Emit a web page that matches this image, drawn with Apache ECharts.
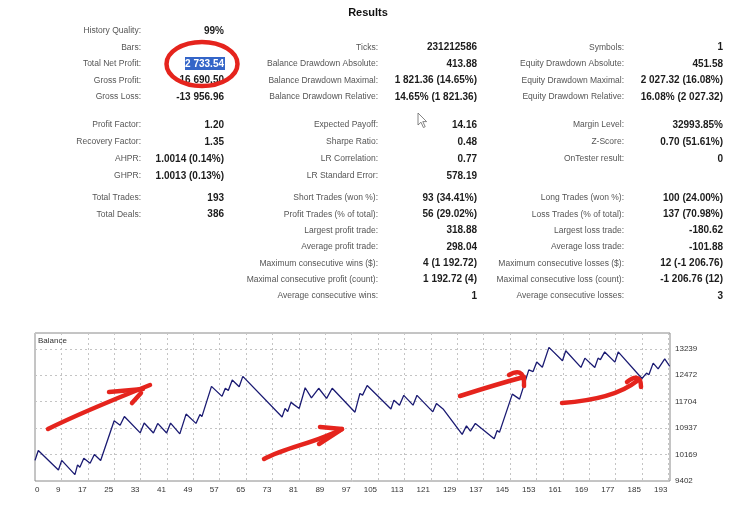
<!DOCTYPE html>
<html>
<head>
<meta charset="utf-8">
<script src="https://cdn.jsdelivr.net/npm/echarts@6/dist/echarts.min.js"></script>
<style>
  html, body { margin: 0; padding: 0; background: #fff; }
  #report { width: 749px; height: 505px; }
</style>
</head>
<body>
<div id="report"></div>
<script>
// balance curve: turning points (trade no., balance)
var tradeNo = [0, 1, 7.1, 8.1, 12.1, 12.9, 13.6, 14.8, 16.7, 18,
    19.9, 24, 25.8, 27.1, 31.9, 33.1, 35.9, 37.2, 39.9, 41.1,
    43.9, 45.8, 48.8, 50, 50.6, 53.5, 56.7, 57.7, 58.6, 59.8,
    61.9, 63, 74.9, 75.8, 76.6, 77.6, 78.5, 80.1, 81.9, 83.8,
    86, 88.4, 90.1, 97, 98.5, 99.3, 100.7, 107.9, 108.8, 110.5,
    111.8, 114.6, 115.8, 120.6, 121.7, 123.7, 129.5, 130.8, 132, 133.5,
    139.2, 140.1, 140.8, 144.7, 146.9, 149.7, 151, 152.1, 153.8, 155.8,
    159.9, 160.9, 165.5, 166.7, 169.7, 170.7, 171.4, 172.7, 175.8, 176.8,
    184, 185.4, 186.1, 187.4, 188.9, 190.9, 192.4];
var balance = [10000, 10290, 9720, 10000, 9586, 9870, 9800, 10060, 9915, 10170,
    9995, 11150, 11020, 11275, 10800, 11085, 10795, 11075, 10795, 11085,
    10770, 11345, 11075, 11335, 11270, 12150, 11860, 12095, 12030, 12335,
    12140, 12440, 11260, 11510, 11420, 11685, 11620, 11510, 12110, 11815,
    12095, 11800, 12095, 11400, 11945, 11895, 12175, 11495, 11750, 11605,
    11890, 11605, 11890, 11410, 11655, 11495, 10755, 11005, 10850, 11075,
    10630, 10870, 10815, 11925, 11780, 12630, 12580, 12855, 12705, 13283,
    12895, 13185, 12700, 12970, 12700, 12970, 12925, 13150, 12855, 13150,
    12380, 12535, 12485, 12825, 12660, 12950, 12734];

var xTickPos = [0, 8, 16, 24, 32, 40, 48, 56, 64, 72, 80, 88, 96, 104, 112, 120, 128, 136, 144, 152, 160, 168, 176, 184, 192];
var xTickLabels = ['0', '9', '17', '25', '33', '41', '49', '57', '65', '73', '81', '89', '97', '105', '113', '121', '129', '137', '145', '153', '161', '169', '177', '185', '193'];
var yTicks = [9402, 10169, 10937, 11704, 12472, 13239];

// report table
var block1 = [
    ['History Quality:', '99%', '', '', '', ''],
    ['Bars:', '', 'Ticks:', '231212586', 'Symbols:', '1'],
    ['Total Net Profit:', '2 733.54', 'Balance Drawdown Absolute:', '413.88', 'Equity Drawdown Absolute:', '451.58'],
    ['Gross Profit:', '16 690.50', 'Balance Drawdown Maximal:', '1 821.36 (14.65%)', 'Equity Drawdown Maximal:', '2 027.32 (16.08%)'],
    ['Gross Loss:', '-13 956.96', 'Balance Drawdown Relative:', '14.65% (1 821.36)', 'Equity Drawdown Relative:', '16.08% (2 027.32)']
];
var block2 = [
    ['Profit Factor:', '1.20', 'Expected Payoff:', '14.16', 'Margin Level:', '32993.85%'],
    ['Recovery Factor:', '1.35', 'Sharpe Ratio:', '0.48', 'Z-Score:', '0.70 (51.61%)'],
    ['AHPR:', '1.0014 (0.14%)', 'LR Correlation:', '0.77', 'OnTester result:', '0'],
    ['GHPR:', '1.0013 (0.13%)', 'LR Standard Error:', '578.19', '', '']
];
var block3 = [
    ['Total Trades:', '193', 'Short Trades (won %):', '93 (34.41%)', 'Long Trades (won %):', '100 (24.00%)'],
    ['Total Deals:', '386', 'Profit Trades (% of total):', '56 (29.02%)', 'Loss Trades (% of total):', '137 (70.98%)'],
    ['', '', 'Largest profit trade:', '318.88', 'Largest loss trade:', '-180.62'],
    ['', '', 'Average profit trade:', '298.04', 'Average loss trade:', '-101.88'],
    ['', '', 'Maximum consecutive wins ($):', '4 (1 192.72)', 'Maximum consecutive losses ($):', '12 (-1 206.76)'],
    ['', '', 'Maximal consecutive profit (count):', '1 192.72 (4)', 'Maximal consecutive loss (count):', '-1 206.76 (12)'],
    ['', '', 'Average consecutive wins:', '1', 'Average consecutive losses:', '3']
];

var labelRight = [141, 378, 624];
var valueRight = [224, 477, 723];
var RED = '#e5241d';

var elements = [];

function txt(s, x, y, font, color, align) {
    elements.push({
        type: 'text', z: 10,
        style: {
            text: s, x: x, y: y, font: font, fill: color,
            align: align, textAlign: align,
            verticalAlign: 'middle', textVerticalAlign: 'middle'
        }
    });
}

function addBlock(rows, y0, step) {
    rows.forEach(function (r, i) {
        var y = y0 + i * step;
        for (var c = 0; c < 3; c++) {
            if (r[c * 2]) txt(r[c * 2], labelRight[c], y, '8.5px "Liberation Sans"', '#555', 'right');
            if (r[c * 2 + 1]) {
                var hl = (r[c * 2 + 1] === '2 733.54');
                txt(r[c * 2 + 1], valueRight[c], y, 'bold 10px "Liberation Sans"', hl ? '#fff' : '#1c1c1c', 'right');
            }
        }
    });
}

// selection highlight behind net profit
elements.push({ type: 'rect', z: 5, shape: { x: 185, y: 57, width: 40, height: 13 }, style: { fill: '#3465c8' } });

txt('Results', 368, 13, 'bold 11px "Liberation Sans"', '#111', 'center');
addBlock(block1, 31, 16.5);
addBlock(block2, 125, 17);
addBlock(block3, 198, 16.3);
txt('Balance', 38, 341, '8px "Liberation Sans"', '#333', 'left');

// mouse cursor
elements.push({
    type: 'polygon', z: 20,
    shape: { points: [[418, 113], [418, 125], [421, 122.2], [423.4, 127.5], [425.2, 126.7], [422.8, 121.6], [426.6, 121.6]] },
    style: { fill: '#fff', stroke: '#666', lineWidth: 0.8 }
});

// red marker drawings
function stroke(el) {
    el.z = 30;
    el.style = { stroke: RED, lineWidth: 4.5, fill: null, lineCap: 'round', lineJoin: 'round' };
    elements.push(el);
}
stroke({ type: 'ellipse', shape: { cx: 202, cy: 64, rx: 35.5, ry: 22 } });
stroke({ type: 'bezierCurve', shape: { x1: 48, y1: 429, cpx1: 80, cpy1: 413, cpx2: 115, cpy2: 399, x2: 150, y2: 385 } });
stroke({ type: 'polyline', shape: { points: [[109, 392], [143, 389]] } });
stroke({ type: 'polyline', shape: { points: [[141, 393], [132, 403]] } });
stroke({ type: 'bezierCurve', shape: { x1: 264, y1: 459, cpx1: 286, cpy1: 447, cpx2: 316, cpy2: 443, x2: 342, y2: 429 } });
stroke({ type: 'polyline', shape: { points: [[320, 427], [342, 429], [319, 444]] } });
stroke({ type: 'bezierCurve', shape: { x1: 460, y1: 396, cpx1: 485, cpy1: 388, cpx2: 505, cpy2: 382, x2: 524, y2: 377 } });
stroke({ type: 'bezierCurve', shape: { x1: 509, y1: 375, cpx1: 516, cpy1: 371, cpx2: 525, cpy2: 369, x2: 524, y2: 386 } });
stroke({ type: 'bezierCurve', shape: { x1: 562, y1: 403, cpx1: 590, cpy1: 401, cpx2: 618, cpy2: 396, x2: 637, y2: 381 } });
stroke({ type: 'bezierCurve', shape: { x1: 627, y1: 382, cpx1: 633, cpy1: 377, cpx2: 641, cpy2: 374, x2: 641, y2: 387 } });

var chart = echarts.init(document.getElementById('report'), null, { renderer: 'canvas' });

var gridLine = { show: true, lineStyle: { color: '#c4c4c4', type: [2, 3], width: 1 } };
var axisFont = { fontFamily: 'Liberation Sans', fontSize: 8, color: '#333' };

var option = {
    animation: false,
    backgroundColor: '#fff',
    grid: {
        left: 35, right: 79, top: 333, bottom: 24,
        show: true, borderColor: '#8a8a8a', borderWidth: 1,
        containLabel: false, outerBoundsMode: 'none'
    },
    xAxis: {
        type: 'value', min: 0, max: 192.5,
        axisLine: { show: false },
        axisTick: { show: false, customValues: xTickPos },
        splitLine: gridLine,
        axisLabel: Object.assign({
            customValues: xTickPos,
            margin: 5,
            align: 'right',
            alignMinLabel: 'left',
            padding: [0, 1, 0, 0],
            formatter: function (v) {
                var i = xTickPos.indexOf(v);
                return i < 0 ? '' : xTickLabels[i];
            }
        }, axisFont)
    },
    yAxis: {
        type: 'value', position: 'right', min: 9402, max: 13700,
        axisLine: { show: false },
        axisTick: { show: false, customValues: yTicks },
        splitLine: gridLine,
        axisLabel: Object.assign({
            customValues: yTicks,
            margin: 5,
            align: 'left',
            formatter: function (v) { return String(v); }
        }, axisFont)
    },
    series: [{
        type: 'line',
        name: 'Balance',
        data: tradeNo.map(function (t, i) { return [t, balance[i]]; }),
        showSymbol: false,
        symbol: 'none',
        lineStyle: { color: '#1a1a72', width: 1.3 },
        z: 3
    }],
    graphic: { elements: elements }
};

chart.setOption(option);
</script>
</body>
</html>
